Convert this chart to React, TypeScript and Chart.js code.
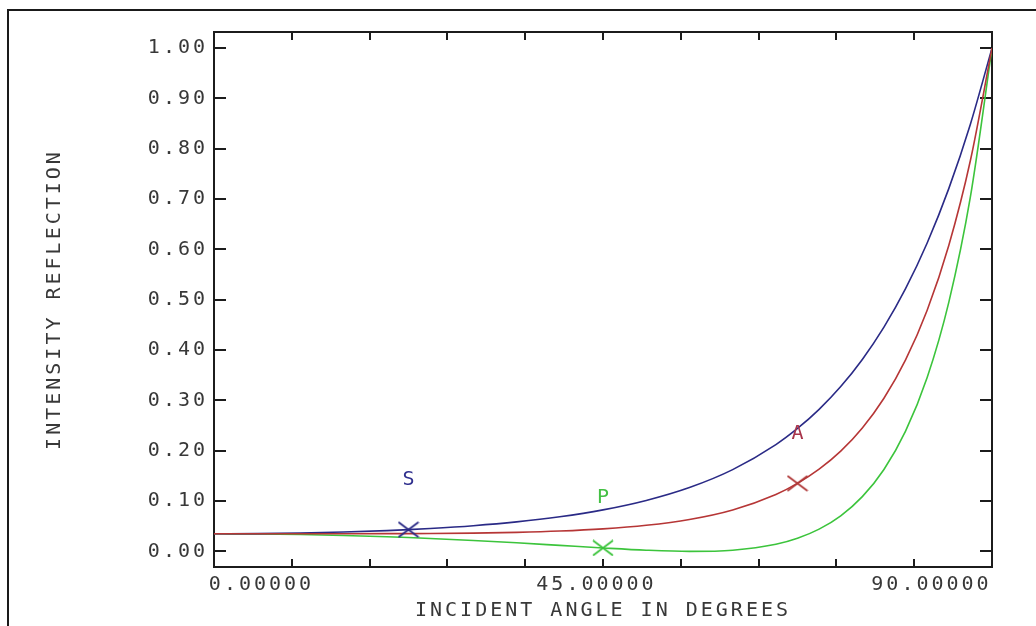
import { useEffect, useRef } from 'react';
import { Chart, registerables } from 'chart.js';

Chart.register(...registerables);

// Incidence angles (degrees) at which the reflectances are tabulated
const angles = [0, 5, 10, 15, 20, 22.5, 25, 30, 35, 40, 45, 50, 55, 60, 65, 67.5, 70, 72.5, 75, 77.5, 80, 82.5, 85, 87.5, 90];

// s-polarised intensity reflection
const sValues = [0.03497, 0.03533, 0.03646, 0.03842, 0.04135, 0.04324, 0.04546, 0.05107, 0.05864, 0.06882, 0.08257, 0.10128, 0.12695, 0.16252, 0.21223, 0.24424, 0.28228, 0.32753, 0.38142, 0.44558, 0.52199, 0.61287, 0.72082, 0.84876, 1.0];

// p-polarised intensity reflection
const pValues = [0.03497, 0.0346, 0.0335, 0.03167, 0.02909, 0.02752, 0.02576, 0.02173, 0.01706, 0.01196, 0.00682, 0.00237, 0.00003, 0.00239, 0.0142, 0.02616, 0.04424, 0.07072, 0.1088, 0.16282, 0.23887, 0.34551, 0.4949, 0.70451, 1.0];

// average (unpolarised) intensity reflection
const aValues = [0.03497, 0.03497, 0.03498, 0.03504, 0.03522, 0.03538, 0.03561, 0.0364, 0.03785, 0.04039, 0.0447, 0.05183, 0.06349, 0.08246, 0.11322, 0.1352, 0.16326, 0.19913, 0.24511, 0.3042, 0.38043, 0.47919, 0.60786, 0.77664, 1.0];

// Curve markers: name, angle and the series each one sits on
const markerNames = ['S', 'P', 'A'];
const markerAngles = [22.5, 45, 67.5];
const markerSeries = [sValues, pValues, aValues];

// Axis ticks
const xTickValues = [0, 9, 18, 27, 36, 45, 54, 63, 72, 81, 90];
const xLabelValues = [0, 45, 90];
const yTickValues = [0, 0.1, 0.2, 0.3, 0.4, 0.5, 0.6, 0.7, 0.8, 0.9, 1.0];

const BLUE = '#2a2a86';
const RED = '#b63636';
const GREEN = '#3cc43c';
const markerColors = ['#30308e', '#44c044', '#a8344a'];
const crossColors = ['#2a2a86', '#3cc43c', '#b03a3a'];
const AXIS = '#1c1c1c';
const TEXT = '#383838';
const FONT = { family: '"DejaVu Sans Mono", monospace', size: 20 };

function makeCross(color: string, w: number, h: number) {
  const c = document.createElement('canvas');
  c.width = w;
  c.height = h;
  const g = c.getContext('2d')!;
  g.strokeStyle = color;
  g.lineWidth = 1.8;
  g.beginPath();
  g.moveTo(1, 1);
  g.lineTo(w - 1, h - 1);
  g.moveTo(w - 1, 1);
  g.lineTo(1, h - 1);
  g.stroke();
  return c;
}

const spacingPlugin = {
  id: 'plotterSpacing',
  beforeLayout(chart: any) {
    chart.ctx.letterSpacing = '3px';
  },
  beforeDraw(chart: any) {
    chart.ctx.letterSpacing = '3px';
  },
};

const markerLabelPlugin = {
  id: 'markerLabels',
  afterDatasetsDraw(chart: any) {
    const meta = chart.getDatasetMeta(3);
    const ctx = chart.ctx;
    ctx.save();
    ctx.font = `${FONT.size}px ${FONT.family}`;
    ctx.textAlign = 'center';
    ctx.textBaseline = 'middle';
    meta.data.forEach((pt: any, i: number) => {
      ctx.fillStyle = markerColors[i];
      ctx.fillText(markerNames[i], pt.x + 1.5, pt.y - 50);
    });
    ctx.restore();
  },
};

const setTicks = (values: number[]) => (axis: any) => {
  axis.ticks = values.map((value) => ({ value }));
};

const frameGrid = (len: number) => ({
  drawOnChartArea: false,
  drawTicks: true,
  tickLength: len,
  color: AXIS,
  lineWidth: 2,
});
const frameBorder = { display: true, color: AXIS, width: 2 };

export default function App() {
  const ref = useRef<HTMLCanvasElement>(null);

  useEffect(() => {
    const curve = (values: number[], color: string, order: number, label: string) => ({
      label,
      data: angles.map((x, i) => ({ x, y: values[i] })),
      borderColor: color,
      backgroundColor: color,
      borderWidth: 1.6,
      pointRadius: 0,
      fill: false,
      cubicInterpolationMode: 'monotone',
      order,
    });

    const markerPoints = markerAngles.map((x, i) => ({
      x,
      y: markerSeries[i][angles.indexOf(x)],
    }));

    const chart = new Chart(ref.current!, {
      type: 'line',
      data: {
        datasets: [
          curve(aValues, RED, 1, 'A'),
          curve(sValues, BLUE, 2, 'S'),
          curve(pValues, GREEN, 3, 'P'),
          {
            label: 'markers',
            data: markerPoints,
            showLine: false,
            pointStyle: crossColors.map((c) => makeCross(c, 22, 17)),
            pointRadius: 10,
            order: 0,
          },
        ],
      } as any,
      options: {
        responsive: false,
        animation: false,
        devicePixelRatio: 1,
        events: [],
        layout: { padding: { left: 0, top: 32, right: 44, bottom: 0 } },
        plugins: { legend: { display: false }, tooltip: { enabled: false } },
        scales: {
          x: {
            type: 'linear',
            position: 'bottom',
            weight: 0,
            min: 0,
            max: 90,
            afterBuildTicks: setTicks(xTickValues),
            afterFit: (s: any) => { s.height = 0; },
            ticks: { display: false },
            grid: frameGrid(-8),
            border: frameBorder,
          },
          xl: {
            type: 'linear',
            position: 'bottom',
            weight: 1,
            min: -6.38,
            max: 98.13,
            afterBuildTicks: setTicks(xLabelValues),
            afterFit: (s: any) => { s.height = 59; },
            ticks: {
              callback: (v: any) => Number(v).toFixed(5),
              font: FONT,
              color: TEXT,
              padding: 6,
              maxRotation: 0,
              autoSkip: false,
            },
            grid: { display: false, drawTicks: false },
            border: { display: false },
            title: {
              display: true,
              text: 'INCIDENT ANGLE IN DEGREES',
              font: FONT,
              color: TEXT,
              padding: { top: 0, bottom: 3 },
            },
          },
          x2: {
            type: 'linear',
            position: 'top',
            min: 0,
            max: 90,
            afterBuildTicks: setTicks(xTickValues),
            afterFit: (s: any) => { s.height = 0; },
            ticks: { display: false },
            grid: frameGrid(-8),
            border: frameBorder,
          },
          y: {
            type: 'linear',
            position: 'left',
            min: -0.031,
            max: 1.032,
            afterBuildTicks: setTicks(yTickValues),
            afterFit: (s: any) => { s.width = 214; },
            ticks: {
              callback: (v: any) => Number(v).toFixed(2),
              font: FONT,
              color: TEXT,
              padding: 18,
              autoSkip: false,
            },
            grid: frameGrid(-12),
            border: frameBorder,
            title: {
              display: true,
              text: 'INTENSITY REFLECTION',
              font: FONT,
              color: TEXT,
              padding: { top: 43, bottom: 0 },
            },
          },
          y2: {
            type: 'linear',
            position: 'right',
            min: -0.031,
            max: 1.032,
            afterBuildTicks: setTicks(yTickValues),
            afterFit: (s: any) => { s.width = 0; },
            ticks: { display: false },
            grid: frameGrid(-12),
            border: frameBorder,
          },
        },
      } as any,
      plugins: [spacingPlugin, markerLabelPlugin],
    });

    return () => chart.destroy();
  }, []);

  return (
    <div
      style={{
        position: 'fixed',
        left: 0,
        top: 0,
        width: 1036,
        height: 626,
        overflow: 'hidden',
        background: '#fff',
      }}
    >
      <div
        style={{
          position: 'absolute',
          left: 7,
          top: 9,
          width: 1100,
          height: 700,
          border: '2px solid #1a1a1a',
        }}
      />
      <canvas
        ref={ref}
        width={1036}
        height={626}
        style={{ position: 'absolute', left: 0, top: 0 }}
      />
    </div>
  );
}
